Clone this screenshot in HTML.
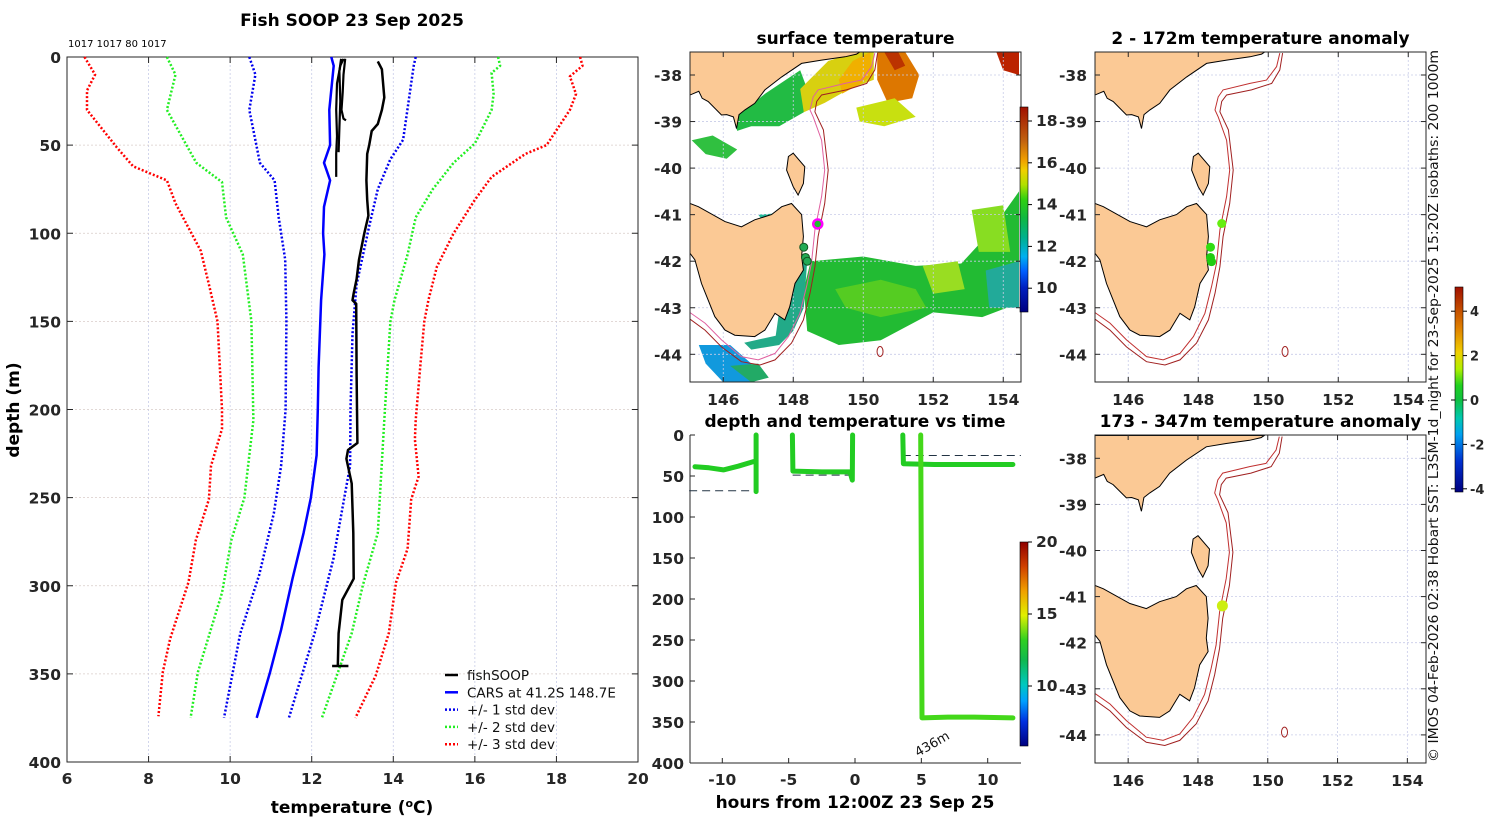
<!DOCTYPE html>
<html><head><meta charset="utf-8">
<style>
html,body{margin:0;padding:0;background:#fff;}
svg{display:block;font-family:"DejaVu Sans","Liberation Sans",sans-serif;}
.tk{font-size:15.5px;font-weight:bold;fill:#262626;}
.ttl{font-size:17px;font-weight:bold;fill:#000;}
</style></head>
<body>
<svg id="fig" width="1500" height="820" viewBox="0 0 1500 820" xmlns="http://www.w3.org/2000/svg">
<defs>
<linearGradient id="gSST" x1="0" y1="1" x2="0" y2="0">
<stop offset="0" stop-color="#00007f"/><stop offset="0.12" stop-color="#0020c0"/><stop offset="0.2" stop-color="#0060ff"/><stop offset="0.27" stop-color="#00b0f0"/><stop offset="0.36" stop-color="#00b090"/><stop offset="0.46" stop-color="#10b840"/><stop offset="0.55" stop-color="#30d010"/><stop offset="0.62" stop-color="#b0e000"/><stop offset="0.69" stop-color="#f0d000"/><stop offset="0.74" stop-color="#f0a000"/><stop offset="0.84" stop-color="#c06010"/><stop offset="1" stop-color="#a01000"/>
</linearGradient>
<linearGradient id="gT" x1="0" y1="1" x2="0" y2="0">
<stop offset="0" stop-color="#00007f"/><stop offset="0.12" stop-color="#0030e0"/><stop offset="0.22" stop-color="#00a0ff"/><stop offset="0.3" stop-color="#00c8c0"/><stop offset="0.42" stop-color="#10b850"/><stop offset="0.52" stop-color="#30d020"/><stop offset="0.64" stop-color="#e0f000"/><stop offset="0.76" stop-color="#f0a000"/><stop offset="0.88" stop-color="#d04000"/><stop offset="1" stop-color="#900000"/>
</linearGradient>
<linearGradient id="gA" x1="0" y1="1" x2="0" y2="0">
<stop offset="0" stop-color="#00007f"/><stop offset="0.15" stop-color="#0030d0"/><stop offset="0.28" stop-color="#00a0f0"/><stop offset="0.36" stop-color="#00c8b0"/><stop offset="0.45" stop-color="#10c040"/><stop offset="0.52" stop-color="#20d020"/><stop offset="0.6" stop-color="#b0f000"/><stop offset="0.68" stop-color="#f0d000"/><stop offset="0.8" stop-color="#e08000"/><stop offset="1" stop-color="#a01000"/>
</linearGradient>
</defs>
</svg>
<script>
// ===== Profile chart data =====
const xTicks=[6,8,10,12,14,16,18,20];
const yTicks=[0,50,100,150,200,250,300,350,400];
const sd3lowD=[0,10,19,30,51,62,70,83,110,129,150,200,211,232,251,274,298,330,349,374];
const sd3lowT=[6.43,6.69,6.49,6.49,7.21,7.62,8.45,8.66,9.28,9.48,9.69,9.8,9.8,9.53,9.48,9.16,8.98,8.53,8.35,8.24];
const sd2lowD=[0,10,30,60,71,91,112,150,206,250,274,304,349,375];
const sd2lowT=[8.45,8.66,8.45,9.17,9.8,9.9,10.31,10.52,10.57,10.35,10.03,9.8,9.21,9.03];
const sd1lowD=[0,10,30,60,70,91,115,150,200,232,259,294,327,375];
const sd1lowT=[10.47,10.62,10.47,10.73,11.09,11.19,11.35,11.38,11.36,11.25,11.07,10.71,10.25,9.85];
const carsD=[0,5,30,50,60,70,85,100,112,138,176,200,226,250,270,296,325,349,375];
const carsT=[12.48,12.54,12.43,12.45,12.3,12.45,12.3,12.28,12.31,12.23,12.17,12.15,12.12,11.98,11.8,11.53,11.25,10.98,10.65];
const sd1hiD=[0,5,47,58,75,96,129,157,200,232,250,285,327,375];
const sd1hiT=[14.55,14.5,14.24,13.93,13.62,13.41,13.1,13.0,12.95,12.94,12.8,12.53,12.07,11.44];
const sd2hiD=[0,5,9,21,30,49,60,75,91,112,138,150,206,270,300,327,375];
const sd2hiT=[16.57,16.62,16.41,16.46,16.41,16.0,15.48,14.97,14.55,14.35,14.03,13.93,13.78,13.62,13.25,12.98,12.25];
const sd3hiD=[0,5,11,21,30,50,55,68,81,100,119,138,150,176,206,217,238,251,279,298,327,351,375];
const sd3hiT=[18.58,18.64,18.33,18.48,18.33,17.76,17.24,16.41,16.0,15.48,15.07,14.86,14.76,14.66,14.55,14.53,14.62,14.44,14.35,14.07,13.89,13.57,13.07];
const soopD=[2.5,7,23,30,38,42,50,55,70,81,90,100,115,126,134,138,140,180,219,223,228,242,270,296,308,327,345.5];
const soopT=[13.62,13.72,13.78,13.72,13.62,13.47,13.41,13.36,13.34,13.36,13.39,13.29,13.16,13.1,13.03,13.0,13.09,13.1,13.12,12.89,12.85,12.98,13.02,13.03,12.75,12.66,12.64];
const shallowAD=[1,5,15,30,45,55,68];
const shallowAT=[12.78,12.7,12.62,12.6,12.62,12.6,12.6];
const shallowBD=[1,10,20,30,35,36];
const shallowBT=[12.82,12.78,12.76,12.73,12.78,12.84];
const shallowCD=[1,8,25,40,54];
const shallowCT=[12.72,12.68,12.7,12.68,12.66];

// ===== Time chart data =====
const tXTicks=[-10,-5,0,5,10];
const tYTicks=[0,50,100,150,200,250,300,350,400];
const trk1H=[-12.06,-11,-9.92,-8.8,-7.66,-7.45,-7.45,-7.45];
const trk1D=[38.6,40,42.6,38,32.5,32.5,0,69];
const trk2H=[-4.72,-4.68,-2.5,-0.38,-0.2,-0.18];
const trk2D=[0,44,45,45,55,0];
const trk3H=[3.6,3.65,6,9,11.9];
const trk3D=[0,35,36,36,36];
const trk4H=[4.95,5.05,7,9,11.9];
const trk4D=[0,345,344,344,345];
const dashH=[[-12.5,-7.3],[-4.7,-0.3],[3.6,12.5]];
const dashD=[68,49,25];

// ===== Map data (lon, lat) =====
const vicLon=[145.05,149.9,149.81,149.48,148.81,148.24,147.67,147.19,146.9,146.62,146.45,146.38,146.29,146.1,145.95,145.57,145.4,145.3,145.05];
const vicLat=[-37.506,-37.506,-37.55,-37.61,-37.68,-37.75,-38.04,-38.32,-38.61,-38.75,-38.85,-39.15,-38.9,-38.85,-38.86,-38.57,-38.5,-38.35,-38.43];
const tasLon=[145.05,145.29,146.05,146.52,146.9,147.38,147.67,147.95,148.24,148.29,148.24,148.29,148.05,147.9,147.76,147.48,147.19,146.9,146.33,146.05,145.76,145.38,145.19,145.05];
const tasLat=[-40.76,-40.83,-41.15,-41.26,-41.11,-41.0,-40.83,-40.76,-41.0,-41.47,-41.9,-42.19,-42.48,-42.98,-43.26,-43.12,-43.48,-43.62,-43.59,-43.48,-43.19,-42.48,-41.97,-41.83];
const fliLon=[147.86,148.0,148.33,148.29,148.14,148.0,147.81];
const fliLat=[-39.75,-39.68,-39.97,-40.33,-40.58,-40.4,-40.04];
const iso200Lon=[150.33,150.24,149.95,149.48,148.71,148.57,148.48,148.57,148.81,148.9,148.81,148.62,148.52,148.38,148.19,147.86,147.48,147.0,146.52,145.95,145.48,144.95];
const iso200Lat=[-37.53,-37.82,-38.11,-38.18,-38.32,-38.47,-38.75,-38.9,-39.4,-40.04,-40.61,-41.33,-42.05,-42.55,-43.12,-43.62,-43.98,-44.12,-44.05,-43.69,-43.33,-43.05];
const iso1000Lon=[150.41,150.33,150.1,149.52,148.81,148.67,148.62,148.86,149.0,148.9,148.71,148.62,148.48,148.29,147.95,147.48,147.05,146.52,145.95,145.48,144.95];
const iso1000Lat=[-37.53,-37.89,-38.18,-38.32,-38.43,-38.57,-38.79,-39.18,-40.04,-40.76,-41.47,-42.12,-42.69,-43.26,-43.76,-44.12,-44.23,-44.16,-43.84,-43.48,-43.19];
const dotsTopLon=[148.67,148.35,148.35,148.38];
const dotsTopLat=[-41.19,-41.7,-41.92,-42.01];
const dotsTopCol=['#66ee11','#33dd11','#22cc11','#22cc11'];
const dotsBotLon=[148.7];
const dotsBotLat=[-41.2];
const sstPatches=[
 [[146.3,147.2,148.2,148.4,148.3,147.6,146.8,146.4],[-38.95,-38.4,-37.9,-38.3,-38.8,-39.1,-39.1,-39.2],'#22bb44'],
 [[148.2,149.0,149.8,150.3,150.3,149.6,148.9,148.3],[-38.3,-37.7,-37.506,-37.506,-38.1,-38.3,-38.6,-38.8],'#d8d010'],
 [[149.3,149.7,150.2,150.25,149.9,149.4],[-38.1,-37.7,-37.506,-38.0,-38.2,-38.4],'#f0b000'],
 [[150.4,151.2,151.6,151.4,150.7,150.4],[-37.506,-37.506,-38.0,-38.5,-38.6,-38.1],'#dd7700'],
 [[150.6,151.0,151.2,150.9],[-37.506,-37.506,-37.8,-37.9],'#bb3300'],
 [[149.8,150.9,151.5,150.6,149.9],[-38.7,-38.5,-38.9,-39.1,-39.0],'#c8e010'],
 [[153.8,154.45,154.45,154.0],[-37.506,-37.506,-38.0,-37.9],'#bb2200'],
 [[145.1,145.7,146.4,146.1,145.5],[-39.4,-39.3,-39.6,-39.8,-39.7],'#30c040'],
 [[148.5,150,151.5,152.8,153.6,154.45,154.45,153.4,152,150.5,149.3,148.4,148.3],[-42.0,-41.9,-42.1,-42.05,-41.4,-40.5,-42.9,-43.2,-43.1,-43.7,-43.8,-43.5,-42.6],'#22bb33'],
 [[149.2,150.5,151.5,151.8,150.5,149.5],[-42.6,-42.4,-42.6,-43.0,-43.2,-43.0],'#55cc22'],
 [[151.7,152.7,152.9,152.0],[-42.1,-42.0,-42.6,-42.7],'#99dd22'],
 [[153.1,154.0,154.2,153.3],[-40.9,-40.8,-41.8,-41.8],'#88dd22'],
 [[153.5,154.45,154.45,153.6],[-42.2,-42.0,-43.0,-43.0],'#22aa99'],
 [[147.8,148.4,148.3,148.0,147.6,146.8,146.6,147.5],[-42.0,-42.0,-43.0,-43.5,-43.8,-43.9,-43.75,-43.6],'#22aa88'],
 [[145.3,146.2,146.8,146.9,146.0,145.5],[-43.8,-43.8,-44.2,-44.6,-44.6,-44.2],'#1199dd'],
 [[146.2,147.0,147.3,146.8],[-44.25,-44.2,-44.5,-44.6],'#22aa66'],
 [[147.0,148.0,147.9,147.2],[-41.0,-40.95,-41.1,-41.2],'#22bb99']
];
const sstTicks=[10,12,14,16,18];
const tcbTicks=[10,15,20];
const anoTicks=[-4,-2,0,2,4];

const svg=document.getElementById('fig');
const NS='http://www.w3.org/2000/svg';
function el(tag,attrs,parent){const e=document.createElementNS(NS,tag);for(const k in attrs)e.setAttribute(k,attrs[k]);(parent||svg).appendChild(e);return e;}
function txt(s,x,y,attrs,parent){const e=el('text',Object.assign({x:x,y:y},attrs||{}),parent);e.textContent=s;return e;}

const P={l:67,r:638,t:57,b:762,x0:6,x1:20,y0:0,y1:400};
function px(T){return P.l+(T-P.x0)/(P.x1-P.x0)*(P.r-P.l);}
function py(d){return P.t+(d-P.y0)/(P.y1-P.y0)*(P.b-P.t);}
const gP=el('g',{});


xTicks.forEach((v,i)=>{
 if(i>0&&i<xTicks.length-1){const gl=el('line',{x1:px(v),y1:P.t,x2:px(v),y2:P.b,stroke:'#c8cce8','stroke-width':0.8,'stroke-dasharray':'2,2'},gP);}
 el('line',{x1:px(v),y1:P.b,x2:px(v),y2:P.b-6,stroke:'#262626'},gP);
 el('line',{x1:px(v),y1:P.t,x2:px(v),y2:P.t+6,stroke:'#262626'},gP);
 const t=txt(String(v),px(v),784,{class:'tk','text-anchor':'middle'},gP);
 
});
yTicks.forEach((v,i)=>{
 if(i>0&&i<yTicks.length-1){const gl=el('line',{x1:P.l,y1:py(v),x2:P.r,y2:py(v),stroke:'#d8ccc8','stroke-width':0.8,'stroke-dasharray':'2,2'},gP);}
 el('line',{x1:P.l,y1:py(v),x2:P.l+6,y2:py(v),stroke:'#262626'},gP);
 el('line',{x1:P.r,y1:py(v),x2:P.r-6,y2:py(v),stroke:'#262626'},gP);
 const t=txt(String(v),61,py(v)+6,{class:'tk','text-anchor':'end'},gP);
 
});
const frame=el('rect',{x:P.l,y:P.t,width:P.r-P.l,height:P.b-P.t,fill:'none',stroke:'#262626','stroke-width':1},gP);

function line(D,T,color,w,dash,name){
 const pts=D.map((d,i)=>px(T[i]).toFixed(1)+','+py(d).toFixed(1)).join(' ');
 const a={points:pts,fill:'none',stroke:color,'stroke-width':w,'stroke-linejoin':'round'};
 if(dash)a['stroke-dasharray']=dash;
 const p=el('polyline',a,gP);
 
}
line(sd3lowD,sd3lowT,'#ff0000',2.5,'2,2','minus-3-std-line');
line(sd2lowD,sd2lowT,'#22ee22',2.5,'2,2','minus-2-std-line');
line(sd1lowD,sd1lowT,'#0000ee',2.5,'2,2','minus-1-std-line');
line(carsD,carsT,'#0000ff',2.5,null,'cars-line');
line(sd1hiD,sd1hiT,'#0000ee',2.5,'2,2','plus-1-std-line');
line(sd2hiD,sd2hiT,'#22ee22',2.5,'2,2','plus-2-std-line');
line(sd3hiD,sd3hiT,'#ff0000',2.5,'2,2','plus-3-std-line');
line(shallowAD,shallowAT,'#000',2.2,null,'fishsoop-shallow-a');
line(shallowBD,shallowBT,'#000',2.2,null,'fishsoop-shallow-b');
line(shallowCD,shallowCT,'#000',2.2,null,'fishsoop-shallow-c');
line(soopD,soopT,'#000',2.5,null,'fishsoop-line');
const bt=el('line',{x1:px(12.5),y1:py(345.5),x2:px(12.9),y2:py(345.5),stroke:'#000','stroke-width':2.5},gP);

const leg=el('g',{},gP);

const legItems=[['fishSOOP','#000',null],['CARS at 41.2S 148.7E','#0000ff',null],['+/- 1 std dev','#0000ee','2,2'],['+/- 2 std dev','#22ee22','2,2'],['+/- 3 std dev','#ff0000','2,2']];
legItems.forEach((it,i)=>{
 const y=675+i*17.3;
 const a={x1:445,y1:y,x2:458,y2:y,stroke:it[1],'stroke-width':2.5};if(it[2])a['stroke-dasharray']=it[2];
 const ln=el('line',a,leg);
 const t=txt(it[0],467,y+5,{'font-size':'13.5px',fill:'#111'},leg);
 
});
let t;
t=txt('Fish SOOP 23 Sep 2025',352,26,{class:'ttl','text-anchor':'middle'});
t=txt('1017 1017 80 1017',68,47,{'font-size':'10px',fill:'#000'});
t=el('text',{x:352,y:813,class:'ttl','text-anchor':'middle'});t.innerHTML='temperature (<tspan baseline-shift="super" font-size="11">o</tspan>C)';
t=txt('depth (m)',0,0,{class:'ttl','text-anchor':'middle',transform:'translate(19,410) rotate(-90)'});

const Q={l:690,r:1021,t:435,b:763,x0:-12.6,x1:12.3,y0:0,y1:400};
function qx(h){return 855+h*13.27;}
function qy(d){return Q.t+(d-Q.y0)/(Q.y1-Q.y0)*(Q.b-Q.t);}
const gQ=el('g',{});

el('line',{x1:Q.l,y1:Q.t,x2:Q.l,y2:Q.b,stroke:'#262626'},gQ);
el('line',{x1:Q.l,y1:Q.b,x2:Q.r,y2:Q.b,stroke:'#262626'},gQ);
tXTicks.forEach(v=>{el('line',{x1:qx(v),y1:Q.b,x2:qx(v),y2:Q.b-5,stroke:'#262626'},gQ);
 const t=txt(String(v),qx(v),785,{class:'tk','text-anchor':'middle'},gQ);});
tYTicks.forEach(v=>{el('line',{x1:Q.l,y1:qy(v),x2:Q.l+5,y2:qy(v),stroke:'#262626'},gQ);
 const t=txt(String(v),684,qy(v)+6,{class:'tk','text-anchor':'end'},gQ);});
dashD.forEach((d,i)=>{const l=el('line',{x1:qx(dashH[i][0]),y1:qy(d),x2:Math.min(Q.r,qx(dashH[i][1])),y2:qy(d),stroke:'#223344','stroke-width':1,'stroke-dasharray':'8,5'},gQ);
 });
function track(H,D,color,name){const pts=H.map((h,i)=>qx(h).toFixed(1)+','+qy(D[i]).toFixed(1)).join(' ');
 const p=el('polyline',{points:pts,fill:'none',stroke:color,'stroke-width':5,'stroke-linecap':'round','stroke-linejoin':'round'},gQ);
 }
track(trk1H,trk1D,'#22cc22','track-segment-1');
track(trk2H,trk2D,'#22cc22','track-segment-2');
track(trk3H,trk3D,'#22cc22','track-segment-3');
track(trk4H,trk4D,'#44d81a','track-segment-4');
t=txt('436m',0,0,{'font-size':'13px',fill:'#111',transform:'translate(918,757) rotate(-30)'});
t=txt('depth and temperature vs time',855,427,{class:'ttl','text-anchor':'middle'});
t=txt('hours from 12:00Z 23 Sep 25',855,808,{class:'ttl','text-anchor':'middle'});
let cb=el('rect',{x:1020,y:542,width:8,height:204,fill:'url(#gT)',stroke:'#000','stroke-width':0.6});

tcbTicks.forEach(v=>{const y=542+(20-v)*14.4;el('line',{x1:1028,y1:y,x2:1032,y2:y,stroke:'#000'});
 const t=txt(String(v),1036,y+5,{class:'tk','font-size':'14px'});});

function makeMap(M,name,title,opts){
 const g=el('g',{});
 
 const mx=lon=>M.l+(lon-M.lon0)*M.sx;
 const my=lat=>M.lat0y+(-38-lat)*M.sy;
 const clipId='clip-'+name;
 const cp=el('clipPath',{id:clipId},g);el('rect',{x:M.l,y:M.t,width:M.r-M.l,height:M.b-M.t},cp);
 const inner=el('g',{'clip-path':'url(#'+clipId+')'},g);
 const poly=(LO,LA,a,nm,parent)=>{const p=el('polygon',Object.assign({points:LO.map((v,i)=>mx(v).toFixed(1)+','+my(LA[i]).toFixed(1)).join(' ')},a),parent||inner);return p;};
 const pl=(LO,LA,a,nm)=>{const p=el('polyline',Object.assign({points:LO.map((v,i)=>mx(v).toFixed(1)+','+my(LA[i]).toFixed(1)).join(' '),fill:'none'},a),inner);};
 if(opts.sst){sstPatches.forEach(sp=>poly(sp[0],sp[1],{fill:sp[2]},'sst-patch'));}
 for(let lon=146;lon<=154;lon+=2){el('line',{x1:mx(lon),y1:M.t,x2:mx(lon),y2:M.b,stroke:'#c8cce8','stroke-width':0.8,'stroke-dasharray':'2,2'},inner);}
 for(let lat=-38;lat>=-44;lat--){el('line',{x1:M.l,y1:my(lat),x2:M.r,y2:my(lat),stroke:'#c8cce8','stroke-width':0.8,'stroke-dasharray':'2,2'},inner);}
 poly(vicLon,vicLat,{fill:'#fbc995',stroke:'#000','stroke-width':1},'victoria-land');
 poly(tasLon,tasLat,{fill:'#fbc995',stroke:'#000','stroke-width':1},'tasmania-land');
 poly(fliLon,fliLat,{fill:'#fbc995',stroke:'#000','stroke-width':1},'flinders-island');
 pl(iso200Lon,iso200Lat,{stroke:opts.sst?'#e060a0':'#c03030','stroke-width':1},'isobath-200m');
 pl(iso1000Lon,iso1000Lat,{stroke:'#a02020','stroke-width':1},'isobath-1000m');
 const sm=el('ellipse',{cx:mx(150.48),cy:my(-43.94),rx:3,ry:5,fill:'none',stroke:'#a02020','stroke-width':1},inner);
 
 if(opts.dots){opts.dots[0].forEach((lon,i)=>{const c=el('circle',{cx:mx(lon),cy:my(opts.dots[1][i]),r:opts.r||4.5,fill:opts.dots[2][i],stroke:opts.dotStroke||'none','stroke-width':1},inner);
  });}
 if(opts.sst){const c=el('circle',{cx:mx(148.7),cy:my(-41.2),r:4.5,fill:'#22bb33',stroke:'#ff00ff','stroke-width':2.5},inner);
  }
 const fr=el('rect',{x:M.l,y:M.t,width:M.r-M.l,height:M.b-M.t,fill:'none',stroke:'#262626','stroke-width':1},g);
 
 for(let lon=146;lon<=154;lon+=2){el('line',{x1:mx(lon),y1:M.b,x2:mx(lon),y2:M.b-5,stroke:'#262626'},g);el('line',{x1:mx(lon),y1:M.t,x2:mx(lon),y2:M.t+5,stroke:'#262626'},g);
  const t=txt(String(lon),mx(lon),M.b+23,{class:'tk','text-anchor':'middle'},g);}
 for(let lat=-38;lat>=-44;lat--){el('line',{x1:M.l,y1:my(lat),x2:M.l+5,y2:my(lat),stroke:'#262626'},g);el('line',{x1:M.r,y1:my(lat),x2:M.r-5,y2:my(lat),stroke:'#262626'},g);
  const t=txt(String(lat),M.l-8,my(lat)+6,{class:'tk','text-anchor':'end'},g);}
 const tt=txt(title,(M.l+M.r)/2,M.t-8,{class:'ttl','text-anchor':'middle'},g);
}
makeMap({l:690,r:1021,t:52,b:382,lon0:145.05,sx:35,lat0y:75,sy:46.55},'sst-map','surface temperature',{sst:true,dots:[[148.3,148.35,148.4],[-41.7,-41.92,-42.0],['#22aa55','#22aa55','#22aa55']],dotStroke:'#115522',r:4});
makeMap({l:1095,r:1426,t:52,b:382,lon0:145.05,sx:35,lat0y:75,sy:46.55},'anomaly-map-shallow','2 - 172m temperature anomaly',{dots:[dotsTopLon,dotsTopLat,dotsTopCol]});
makeMap({l:1095,r:1426,t:435,b:763,lon0:145.05,sx:34.9,lat0y:458.3,sy:46.1},'anomaly-map-deep','173 - 347m temperature anomaly',{dots:[dotsBotLon,dotsBotLat,['#ccee11']],r:5.5});
cb=el('rect',{x:1020,y:107,width:8,height:205,fill:'url(#gSST)',stroke:'#000','stroke-width':0.6});

sstTicks.forEach(v=>{const y=121+(18-v)*20.9;el('line',{x1:1028,y1:y,x2:1032,y2:y,stroke:'#000'});
 const t=txt(String(v),1036,y+5,{class:'tk','font-size':'14px'});});
cb=el('rect',{x:1455,y:287,width:8,height:205,fill:'url(#gA)',stroke:'#000','stroke-width':0.6});

anoTicks.forEach(v=>{const y=400-v*22.2;el('line',{x1:1463,y1:y,x2:1467,y2:y,stroke:'#000'});el('line',{x1:1455,y1:y,x2:1451,y2:y,stroke:'#000'});
 const t=txt(String(v),1470,y+5,{'font-size':'13px','font-weight':'bold',fill:'#262626'});});
t=txt('© IMOS 04-Feb-2026 02:38 Hobart SST: L3SM-1d_night for 23-Sep-2025 15:20Z isobaths: 200  1000m',0,0,{'font-size':'13.5px',fill:'#111','text-anchor':'middle',textLength:712,lengthAdjust:'spacingAndGlyphs',transform:'translate(1438,406) rotate(-90)'});

</script>
</body></html>
